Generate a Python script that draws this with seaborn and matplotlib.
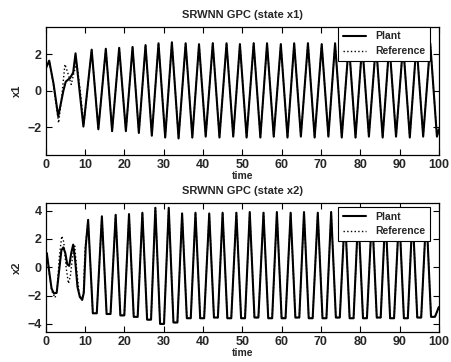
import matplotlib
matplotlib.use("Agg")
import matplotlib.pyplot as plt
import seaborn as sns
import pandas as pd

# ---- state x1 : turning points ----
x1_start_t = [0.0, 0.9, 2.0, 3.2, 4.5, 5.1, 6.2, 7.0, 7.6, 9.6]
x1_start_v = [1.2, 1.65, 0.4, -1.4, 0.0, 0.5, 0.7, 1.0, 2.05, -1.95]
x1_ref_start_t = [0.0, 0.9, 2.0, 3.3, 4.1, 4.9, 5.6, 6.5, 7.1, 7.9, 8.8, 9.7]
x1_ref_start_v = [1.2, 1.65, 0.3, -1.75, -0.3, 1.45, 1.0, 0.35, 0.9, 1.55, 0.0, -1.85]

x1_peak_t = [11.7, 15.3, 18.7, 22.1, 25.4, 28.7, 32.1, 35.6, 39.0, 42.5, 46.0, 49.4, 52.9,
             56.3, 59.8, 63.2, 66.7, 70.2, 73.6, 77.1, 80.5, 84.0, 87.4, 90.9, 94.3, 97.8]
x1_peak_v = [2.25, 2.3, 2.35, 2.4, 2.5, 2.6, 2.65, 2.6, 2.55, 2.6, 2.6, 2.55, 2.6,
             2.6, 2.55, 2.6, 2.6, 2.55, 2.6, 2.6, 2.55, 2.6, 2.6, 2.55, 2.6, 2.6]
x1_trough_t = [13.4, 16.9, 20.4, 23.7, 27.0, 30.4, 33.8, 37.3, 40.7, 44.2, 47.7, 51.1, 54.6,
               58.0, 61.5, 64.9, 68.4, 71.9, 75.3, 78.8, 82.2, 85.7, 89.1, 92.6, 96.0, 99.5, 100.0]
x1_trough_v = [-2.1, -2.2, -2.2, -2.3, -2.45, -2.55, -2.6, -2.55, -2.5, -2.55, -2.5, -2.55, -2.55,
               -2.5, -2.55, -2.5, -2.55, -2.5, -2.55, -2.55, -2.5, -2.55, -2.5, -2.55, -2.5, -2.5, -2.1]

# ---- state x2 ----
x2_start_t = [0.0, 0.3, 0.9, 1.5, 2.1, 2.8, 3.4, 4.0, 4.5, 5.0, 5.5, 6.0, 6.5, 7.0,
              7.5, 8.1, 8.7, 9.3, 9.7, 10.2]
x2_start_v = [0.9, 1.0, -0.3, -1.5, -1.85, -1.8, -0.3, 1.2, 1.4, 1.0, 0.2, 0.1, 1.0, 1.6,
              0.5, -1.4, -2.1, -2.3, -1.8, 1.5]
x2_ref_start_t = [0.0, 0.3, 0.9, 1.6, 2.4, 2.9, 3.5, 4.1, 4.6, 5.2, 5.8, 6.3, 6.9, 7.4,
                  7.9, 8.5, 9.2, 9.6, 10.0]
x2_ref_start_v = [0.9, 1.0, -0.4, -1.7, -2.15, -1.6, 0.8, 2.2, 1.8, 0.0, -1.15, -0.6, 0.9, 1.5,
                  -0.2, -1.8, -2.3, -1.9, 1.2]

x2_peak_t = [10.8, 14.3, 17.8, 21.2, 24.6, 27.9, 31.3, 34.7, 38.1, 41.6, 45.0, 48.5, 51.9,
             55.4, 58.8, 62.3, 65.7, 69.2, 72.6, 76.1, 79.5, 83.0, 86.4, 89.9, 93.3, 96.8]
x2_peak_v = [3.35, 3.6, 3.7, 3.75, 3.85, 4.2, 4.2, 3.8, 3.85, 3.8, 3.85, 3.85, 3.9,
             3.85, 3.9, 3.85, 3.9, 3.85, 3.9, 3.85, 3.85, 3.9, 3.85, 3.9, 3.85, 3.9]
x2_low_in_t = [12.0, 15.5, 19.0, 22.4, 25.8, 29.1, 32.5, 35.9, 39.3, 42.8, 46.2, 49.7, 53.1,
               56.6, 60.0, 63.5, 66.9, 70.4, 73.8, 77.3, 80.7, 84.2, 87.6, 91.1, 94.5, 98.0]
x2_low_out_t = [13.0, 16.5, 20.0, 23.4, 26.8, 30.1, 33.5, 36.9, 40.3, 43.8, 47.2, 50.7, 54.1,
                57.6, 61.0, 64.5, 67.9, 71.4, 74.8, 78.3, 81.7, 85.2, 88.6, 92.1, 95.5, 99.0]
x2_low_v = [-3.25, -3.3, -3.4, -3.5, -3.7, -4.0, -3.9, -3.6, -3.6, -3.55, -3.6, -3.6, -3.55,
            -3.6, -3.6, -3.55, -3.6, -3.6, -3.55, -3.6, -3.6, -3.55, -3.6, -3.6, -3.55, -3.5]
x2_end_t = [100.0]
x2_end_v = [-2.8]


def series(parts):
    df = pd.concat([pd.DataFrame({"time": t, "val": v}) for t, v in parts])
    return df.sort_values("time").reset_index(drop=True)


x1_tail = [(x1_peak_t, x1_peak_v), (x1_trough_t, x1_trough_v)]
x1_plant = series([(x1_start_t, x1_start_v)] + x1_tail)
x1_ref = series([(x1_ref_start_t, x1_ref_start_v)] + x1_tail)

x2_tail = [(x2_peak_t, x2_peak_v), (x2_low_in_t, x2_low_v), (x2_low_out_t, x2_low_v),
           (x2_end_t, x2_end_v)]
x2_plant = series([(x2_start_t, x2_start_v)] + x2_tail)
x2_ref = series([(x2_ref_start_t, x2_ref_start_v)] + x2_tail)

sns.set_style("ticks")
plt.rcParams["font.family"] = ["Liberation Sans", "DejaVu Sans"]

fig = plt.figure(figsize=(4.52, 3.62), dpi=100)
ax1 = fig.add_axes([0.101, 0.572, 0.870, 0.354])
ax2 = fig.add_axes([0.101, 0.0837, 0.870, 0.356])

panels = [
    (ax1, x1_plant, x1_ref, "x1", "SRWNN GPC (state x1)", (-3.5, 3.5), [-2, 0, 2], 1.0),
    (ax2, x2_plant, x2_ref, "x2", "SRWNN GPC (state x2)", (-4.55, 4.55), [-4, -2, 0, 2, 4], 0.967),
]

for ax, plant, ref, ylab, title, ylim, yt, leg_top in panels:
    sns.lineplot(data=plant, x="time", y="val", ax=ax, color="black", lw=1.5,
                 estimator=None, label="Plant")
    sns.lineplot(data=ref, x="time", y="val", ax=ax, color="black", lw=1.0,
                 linestyle=":", estimator=None, label="Reference")
    ax.set_xlim(0, 100)
    ax.set_ylim(*ylim)
    ax.set_xticks(range(0, 101, 10))
    ax.set_yticks(yt)
    ax.tick_params(direction="in", top=True, right=True, length=4, width=0.8,
                   labelsize=9, pad=3, color="black")
    for lab in ax.get_xticklabels() + ax.get_yticklabels():
        lab.set_fontweight("bold")
    for sp in ax.spines.values():
        sp.set_visible(True)
        sp.set_color("black")
        sp.set_linewidth(0.9)
    ax.set_xlabel("time", fontsize=7.5, fontweight="bold", labelpad=0)
    ax.set_ylabel(ylab, fontsize=8, fontweight="bold", labelpad=4)
    ax.set_title(title, fontsize=8, fontweight="bold", pad=6)
    leg = ax.legend(loc="upper right", bbox_to_anchor=(0.977, leg_top), fancybox=False,
                    edgecolor="black", framealpha=1, prop={"size": 7.5, "weight": "bold"},
                    handlelength=2.2, handletextpad=0.9, borderaxespad=0, borderpad=0.45,
                    labelspacing=0.45)
    leg.get_frame().set_linewidth(0.8)

fig.savefig("out.png", dpi=100)
